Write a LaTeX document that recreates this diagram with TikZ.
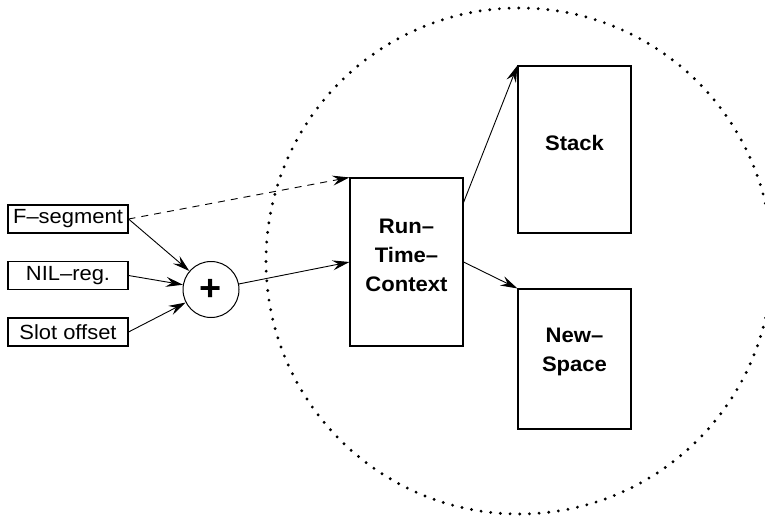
\documentclass[tikz,border=0pt]{standalone}
\usepackage{fontspec}
\usetikzlibrary{arrows.meta}
\newfontfamily\labelfont[FakeStretch=1.07]{Liberation Sans}
\newfontfamily\titlefont[FakeStretch=1.05]{Liberation Sans}
\begin{document}
\begin{tikzpicture}[x=1pt,y=-1pt,
  inbox/.style={draw, line width=1.1pt, minimum width=120pt, minimum height=28pt,
    inner sep=0pt, font=\labelfont\fontsize{20.5}{20.5}\selectfont},
  bigbox/.style={draw, line width=1.1pt, minimum width=113pt, inner sep=0pt},
  boxtext/.style={align=center, inner sep=0pt,
    font=\titlefont\bfseries\fontsize{21}{29}\selectfont},
  conn/.style={line width=0.9pt, -{Stealth[length=17pt,width=10pt,inset=6pt]}},
  dotring/.style={line width=3.2pt, line cap=round, dash pattern=on 0pt off 9.7pt}]
\useasboundingbox (0,0) rectangle (765,516);

% the run-time area
\draw[dotring] (519,261) circle [radius=253pt];

% input registers
\node[inbox] (fseg) at (68,219) {F–segment};
\node[inbox] (nil) at (68,275.5) {NIL–reg.};
\node[inbox] (slot) at (68,332) {Slot offset};

% adder
\node[circle, draw, line width=1pt, minimum size=56pt, inner sep=0pt,
  font=\titlefont\bfseries\fontsize{36}{36}\selectfont] (sum) at (211,289.5) {+};

% memory blocks
\node[bigbox, minimum height=168pt] (rtc) at (406.5,262) {};
\node[boxtext] (rtctext) at (406.5,255) {Run–\\Time–\\Context};
\node[bigbox, minimum height=167pt] (stack) at (574.5,149.5) {};
\node[boxtext] (stacktext) at (574.5,143) {Stack};
\node[bigbox, minimum height=140pt] (newspace) at (574.5,359) {};
\node[boxtext] (newspacetext) at (574.5,352) {New–\\Space};

% connections
\draw[conn, dash pattern=on 7pt off 6pt] (fseg.east) -- (rtc.north west);
\draw[conn] (fseg.east) -- (sum);
\draw[conn] (nil.east) -- (sum);
\draw[conn] (slot.east) -- (sum);
\draw[conn] (sum) -- (rtc.west);
\draw[conn] ([yshift=-25pt]rtc.north east) -- (stack.north west);
\draw[conn] (rtc.east) -- (newspace.north west);
\end{tikzpicture}
\end{document}
